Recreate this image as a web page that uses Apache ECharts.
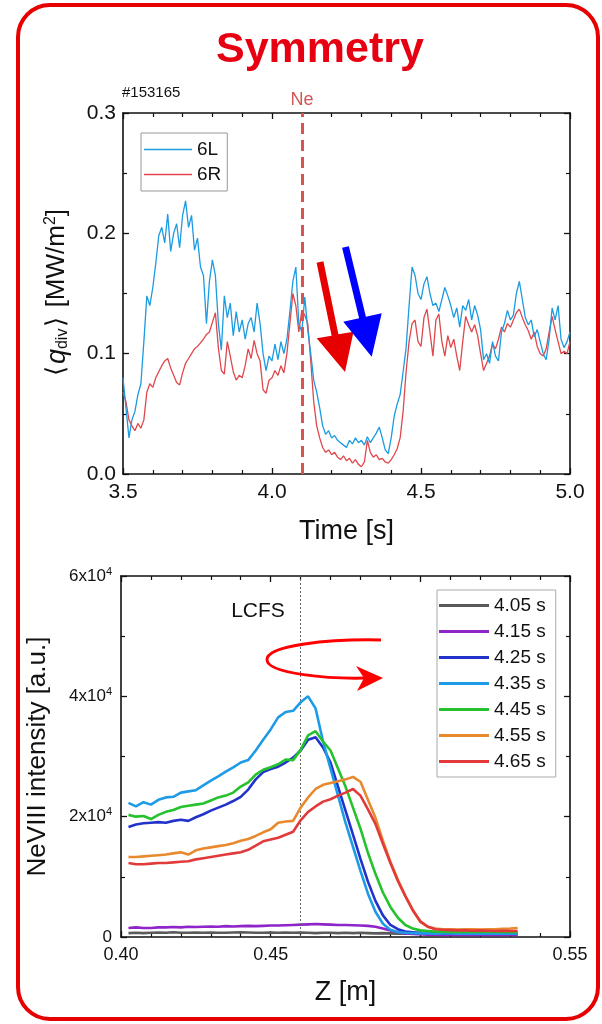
<!DOCTYPE html>
<html>
<head>
<meta charset="utf-8">
<script src="https://cdn.jsdelivr.net/npm/echarts@6/dist/echarts.min.js"></script>
<style>
html,body{margin:0;padding:0;background:#fff;}
#c{width:602px;height:1024px;}
</style>
</head>
<body>
<div id="c"></div>
<script>
// ---------- Top panel: <q_div> vs time ----------
const tStart = 3.50, tStep = 0.01;  // sampling grid of the time traces
const q6L = [0.080,0.055,0.030,0.045,0.052,0.066,0.075,0.110,0.148,0.140,
 0.155,0.175,0.198,0.205,0.192,0.216,0.185,0.200,0.208,0.188,
 0.215,0.227,0.205,0.215,0.186,0.196,0.172,0.165,0.125,0.160,
 0.178,0.165,0.125,0.103,0.148,0.130,0.142,0.115,0.135,0.118,
 0.128,0.112,0.125,0.130,0.118,0.142,0.125,0.100,0.086,0.098,
 0.094,0.108,0.095,0.110,0.100,0.112,0.135,0.160,0.172,0.125,
 0.118,0.147,0.120,0.100,0.078,0.068,0.055,0.040,0.033,0.036,
 0.030,0.032,0.028,0.026,0.024,0.022,0.028,0.025,0.030,0.026,
 0.028,0.024,0.031,0.026,0.030,0.034,0.039,0.030,0.020,0.017,
 0.030,0.048,0.058,0.066,0.085,0.105,0.140,0.172,0.165,0.150,
 0.145,0.158,0.164,0.150,0.140,0.142,0.135,0.145,0.155,0.148,
 0.140,0.130,0.138,0.122,0.140,0.136,0.145,0.128,0.140,0.132,
 0.120,0.095,0.100,0.092,0.110,0.098,0.094,0.118,0.125,0.136,
 0.128,0.132,0.150,0.160,0.145,0.130,0.124,0.128,0.114,0.120,
 0.110,0.100,0.095,0.112,0.138,0.128,0.140,0.112,0.105,0.110,
 0.118];
const q6R = [0.068,0.060,0.045,0.040,0.036,0.042,0.038,0.045,0.068,0.075,
 0.072,0.080,0.085,0.090,0.094,0.096,0.088,0.082,0.076,0.074,
 0.084,0.092,0.096,0.100,0.104,0.106,0.109,0.112,0.116,0.118,
 0.126,0.134,0.105,0.086,0.083,0.110,0.098,0.085,0.078,0.082,
 0.080,0.090,0.104,0.096,0.111,0.100,0.094,0.070,0.067,0.078,
 0.080,0.086,0.082,0.090,0.084,0.100,0.125,0.150,0.140,0.118,
 0.136,0.132,0.125,0.094,0.060,0.040,0.030,0.022,0.018,0.020,
 0.016,0.018,0.014,0.012,0.015,0.011,0.013,0.009,0.012,0.008,
 0.006,0.010,0.028,0.018,0.014,0.016,0.012,0.013,0.010,0.009,
 0.012,0.016,0.021,0.030,0.052,0.085,0.110,0.125,0.128,0.110,
 0.106,0.130,0.137,0.118,0.098,0.128,0.133,0.110,0.098,0.115,
 0.105,0.112,0.098,0.086,0.110,0.131,0.124,0.118,0.124,0.115,
 0.100,0.086,0.092,0.098,0.108,0.104,0.112,0.122,0.118,0.125,
 0.122,0.128,0.134,0.137,0.130,0.124,0.119,0.112,0.118,0.106,
 0.100,0.098,0.104,0.118,0.131,0.120,0.110,0.100,0.102,0.100,
 0.110];
const topSeriesNames = ['6L', '6R'];
const neTime = 4.1;

// ---------- Bottom panel: NeVIII intensity vs Z ----------
const zStart = 0.4025, zStep = 0.0025; // sampling grid of the profiles
const profileNames = ['4.05 s','4.15 s','4.25 s','4.35 s','4.45 s','4.55 s','4.65 s'];
const p405 = [650,700,650,700,750,700,800,700,700,750, 700,750,700,700,750,800,750,700,700,750,
 700,750,700,750,700,650,700,700,650,700, 650,700,650,600,650,600,550,600,550,500,
 550,500,500,550,500,500,550,500,500,450, 500,500,450];
const p415 = [1500,1600,1500,1500,1600,1600,1650,1600,1700,1650, 1700,1750,1700,1800,1750,1800,1850,1800,1850,1900,
 1900,1950,2000,2050,2100,2150,2100,2050,2000,2000, 1950,1900,1850,1700,1400,1100,800,600,500,450,
 400,400,350,400,350,350,400,350,350,350, 400,350,350];
const p425 = [18300,18700,18900,19000,19100,19000,19300,19500,19300,19900, 20400,21000,21500,22000,22600,23300,24500,26200,27400,27900,
 28300,29000,29800,31000,32800,33200,31500,29000,25000,21000, 17000,13000,9200,6000,3600,2000,1300,900,800,700,
 650,600,650,600,600,650,600,600,650,600, 600,600,550];
const p435 = [22300,21700,22400,22000,22800,23200,23300,24000,24200,24400, 25200,26000,26700,27500,28200,29000,29400,31000,32800,34500,
 36500,37400,37600,39000,40000,38000,32500,28000,23500,19000, 15000,11000,7200,4200,2200,1200,800,700,650,600,
 600,550,600,600,550,600,550,600,550,550, 600,550,550];
const p445 = [20300,20000,20100,19600,20300,20800,21100,21600,21800,22000, 22200,22700,23200,23500,24000,25000,25700,27000,27800,28200,
 28700,29500,29400,31100,33500,34200,32500,31000,28000,25000, 21500,18000,14000,10500,7400,5000,3200,2000,1400,1100,
 1000,900,900,850,900,850,850,900,850,850, 850,800,800];
const p455 = [13300,13300,13400,13500,13600,13700,13900,14100,13700,14400, 14700,14900,15100,15300,15600,16000,16300,16800,17400,17900,
 19000,19200,19300,21500,23200,24600,25300,25600,25900,26200, 26600,25800,22800,19800,16000,12500,9500,6800,4500,2500,
 1700,1400,1300,1300,1250,1300,1300,1250,1300,1300, 1350,1400,1500];
const p465 = [12300,12100,12100,12200,12300,12300,12400,12500,12600,12900, 13100,13300,13500,13700,13900,14100,14500,15200,15900,16200,
 16500,17000,17500,19400,20800,21700,22500,22900,23500,24000, 24600,23500,21200,18800,15500,12300,9300,6800,4400,2600,
 1700,1300,1200,1150,1100,1100,1050,1100,1050,1000, 1050,1000,1000];
const lcfsZ = 0.46;

const topColors = ['#1b9be0', '#e0474c'];
const profileColors = ['#5a5a5a','#8e25c8','#2233cc','#1e9be6','#25c22e','#e8892e','#e23a3a'];

// ---------- build ----------
const FONT = '"Liberation Sans", Arial, sans-serif';
function pairs(start, step, arr, dec) {
  return arr.map((v, i) => [+(start + i * step).toFixed(dec), v]);
}
const profiles = [p405, p415, p425, p435, p445, p455, p465];

function frameAxes(common, grid, pos, showLabel, extra) {
  return Object.assign({
    gridIndex: grid, type: 'value', position: pos,
    axisLine: { show: true, onZero: false, lineStyle: { color: '#111', width: 1.6 } },
    axisTick: { show: true, inside: true, length: 6, lineStyle: { color: '#111', width: 1.3 } },
    minorTick: { show: true, length: 4, lineStyle: { color: '#111', width: 1.2 } },
    splitLine: { show: false },
    axisLabel: { show: showLabel, color: '#111', fontFamily: FONT }
  }, common, extra || {});
}

const xTop = { min: 3.5, max: 5.0, interval: 0.5 };
const yTop = { min: 0, max: 0.3, interval: 0.1 };
const xBot = { min: 0.40, max: 0.55, interval: 0.05 };
const yBot = { min: 0, max: 60000, interval: 20000 };
const mt = n => ({ show: true, splitNumber: n, length: 4, lineStyle: { color: '#111', width: 1.2 } });

const xAxes = [
  frameAxes(xTop, 0, 'bottom', true, {
    minorTick: mt(5),
    axisLabel: { show: true, color: '#111', fontFamily: FONT, fontSize: 21, margin: 8, formatter: v => v.toFixed(1) },
    name: 'Time [s]', nameLocation: 'middle', nameGap: 44,
    nameTextStyle: { fontSize: 27, color: '#111', fontFamily: FONT }
  }),
  frameAxes(xTop, 0, 'top', false, { minorTick: mt(5) }),
  frameAxes(xBot, 1, 'bottom', true, {
    minorTick: mt(5),
    axisLabel: { show: true, color: '#111', fontFamily: FONT, fontSize: 18, margin: 9, formatter: v => v.toFixed(2) },
    name: 'Z [m]', nameLocation: 'middle', nameGap: 42,
    nameTextStyle: { fontSize: 27, color: '#111', fontFamily: FONT }
  }),
  frameAxes(xBot, 1, 'top', false, { minorTick: mt(5) })
];
const yAxes = [
  frameAxes(yTop, 0, 'left', true, {
    minorTick: mt(2),
    axisLabel: { show: true, color: '#111', fontFamily: FONT, fontSize: 21, margin: 7, formatter: v => v.toFixed(1) },
    name: '{t|\u27e8}{q|q}{sub|div}{t|\u27e9} [MW/m{sup|2}]', nameLocation: 'middle', nameGap: 52, nameRotate: 90,
    nameTextStyle: { fontSize: 26, color: '#111', fontFamily: FONT,
      rich: {
        t: { fontSize: 26, fontFamily: FONT, color: '#111', padding: [0, 2, 0, 2] },
        q: { fontSize: 27, fontStyle: 'italic', fontFamily: FONT, color: '#111' },
        sub: { fontSize: 16, fontFamily: FONT, color: '#111', padding: [12, 0, 0, 0] },
        sup: { fontSize: 16, fontFamily: FONT, color: '#111', padding: [0, 0, 12, 0] }
      } }
  }),
  frameAxes(yTop, 0, 'right', false, { minorTick: mt(2) }),
  frameAxes(yBot, 1, 'left', true, {
    minorTick: mt(2),
    axisLabel: { show: true, color: '#111', fontFamily: FONT, fontSize: 17, margin: 9,
      formatter: v => v === 0 ? '{b|0}' : '{b|' + (v / 10000) + 'x10}{s|4}',
      rich: { b: { fontSize: 17, fontFamily: FONT, color: '#111' },
              s: { fontSize: 11, fontFamily: FONT, color: '#111', padding: [0, 0, 9, 0] } } },
    name: 'NeVIII intensity [a.u.]', nameLocation: 'middle', nameGap: 70, nameRotate: 90,
    nameTextStyle: { fontSize: 26, color: '#111', fontFamily: FONT }
  }),
  frameAxes(yBot, 1, 'right', false, { minorTick: mt(2) })
];

const series = [];
[q6L, q6R].forEach((arr, i) => {
  const s = {
    name: topSeriesNames[i], type: 'line', xAxisIndex: 0, yAxisIndex: 0,
    data: pairs(tStart, tStep, arr, 2), showSymbol: false, symbol: 'none',
    lineStyle: { color: topColors[i], width: 1.3 }, itemStyle: { color: topColors[i] },
    z: 3 - i
  };
  if (i === 1) {
    s.markLine = { silent: true, symbol: ['none', 'none'], label: { show: false },
      lineStyle: { color: '#d9534f', type: [11, 6], width: 3 },
      data: [{ xAxis: neTime }] };
  }
  series.push(s);
});
profiles.forEach((arr, i) => {
  const s = {
    name: profileNames[i], type: 'line', xAxisIndex: 2, yAxisIndex: 2,
    data: pairs(zStart, zStep, arr, 4), showSymbol: false, symbol: 'none',
    lineStyle: { color: profileColors[i], width: 2.6 }, itemStyle: { color: profileColors[i] },
    z: 2 + i
  };
  if (i === 0) {
    s.markLine = { silent: true, symbol: ['none', 'none'], label: { show: false },
      lineStyle: { color: '#666', type: [2, 2], width: 1 },
      data: [{ xAxis: lcfsZ }] };
  }
  series.push(s);
});

const legendText = { fontSize: 19, color: '#111', fontFamily: FONT };
const option = {
  animation: false,
  backgroundColor: '#fff',
  grid: [
    { left: 123, right: 32, top: 113, height: 361 },
    { left: 121, right: 32, top: 576, height: 361 }
  ],
  xAxis: xAxes,
  yAxis: yAxes,
  legend: [
    { data: topSeriesNames, orient: 'vertical', left: 141, top: 133, icon: 'rect', itemWidth: 48, itemHeight: 1.6, itemGap: 6,
      padding: [7, 6, 7, 3], borderColor: '#999', borderWidth: 1, backgroundColor: '#fff', textStyle: legendText },
    { data: profileNames, orient: 'vertical', left: 437, top: 590, icon: 'rect', itemWidth: 50, itemHeight: 3, itemGap: 7,
      padding: [6, 10, 6, 2], borderColor: '#aaa', borderWidth: 1, backgroundColor: '#fff', textStyle: legendText }
  ],
  series: series,
  graphic: [
    { type: 'rect', z: 100, shape: { x: 18, y: 5, width: 580, height: 1014, r: 32 },
      style: { fill: 'none', stroke: '#e60000', lineWidth: 4 } },
    { type: 'text', z: 100, style: { text: 'Symmetry', x: 320, y: 50, align: 'center', verticalAlign: 'middle',
      fontSize: 43, fontWeight: 'bold', fontFamily: FONT, fill: '#e60012' } },
    { type: 'text', z: 100, style: { text: '#153165', x: 122, y: 93, align: 'left', verticalAlign: 'middle',
      fontSize: 15, fontFamily: FONT, fill: '#111' } },
    { type: 'text', z: 100, style: { text: 'Ne', x: 302, y: 100, align: 'center', verticalAlign: 'middle',
      fontSize: 18, fontFamily: FONT, fill: '#d25555' } },
    { type: 'text', z: 100, style: { text: 'LCFS', x: 258, y: 611, align: 'center', verticalAlign: 'middle',
      fontSize: 21, fontFamily: FONT, fill: '#111' } },
    { type: 'polygon', z: 100, shape: { points: [[316.6,262.8],[323.4,261.2],[338.4,334.2],[353.5,331.7],[345,372],[316.7,338.3],[331.6,335.8]] },
      style: { fill: '#e60000' } },
    { type: 'polygon', z: 101, shape: { points: [[342.1,247.8],[348.9,246.2],[365.9,316.7],[381.7,313.3],[371.7,356.7],[343.3,321.7],[359.1,318.3]] },
      style: { fill: '#0000ff' } },
    { type: 'bezierCurve', z: 100, shape: { x1: 381, y1: 640, cpx1: 330, cpy1: 639, cpx2: 266, cpy2: 645, x2: 267, y2: 660 },
      style: { fill: 'none', stroke: '#ff0000', lineWidth: 3 } },
    { type: 'bezierCurve', z: 100, shape: { x1: 267, y1: 660, cpx1: 268, cpy1: 674, cpx2: 330, cpy2: 679, x2: 366, y2: 678 },
      style: { fill: 'none', stroke: '#ff0000', lineWidth: 3 } },
    { type: 'polygon', z: 100, shape: { points: [[383,678],[356,666],[364,678],[357,691]] },
      style: { fill: '#ff0000' } }
  ]
};
const chart = echarts.init(document.getElementById('c'), null, { renderer: 'canvas' });
chart.setOption(option);
</script>
</body>
</html>
